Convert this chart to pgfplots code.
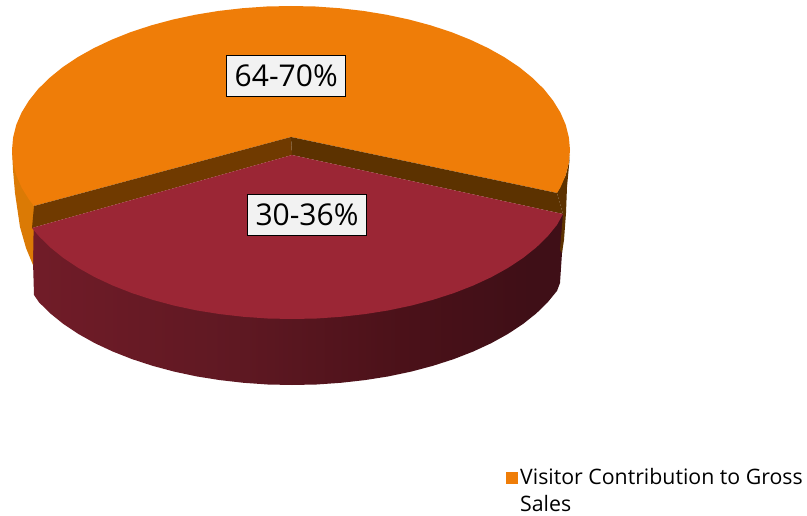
\documentclass[border=0pt]{standalone}
\usepackage{pgfplots}
\pgfplotsset{compat=1.18}
\usepackage{fontspec}
\setmainfont{Open Sans}
\definecolor{sliceorange}{HTML}{EF7D08}
\definecolor{orangeside}{HTML}{DB7A05}
\definecolor{slicemaroon}{HTML}{9B2635}
\definecolor{wallleft}{HTML}{703A00}
\definecolor{wallright}{HTML}{5C3200}
\definecolor{labelfill}{HTML}{F2F2F2}
\pgfdeclarehorizontalshading{rimfade}{100bp}{
  rgb(0bp)=(0.51,0.137,0.184);
  rgb(25bp)=(0.443,0.11,0.157);
  rgb(45bp)=(0.369,0.094,0.133);
  rgb(60bp)=(0.294,0.067,0.098);
  rgb(72bp)=(0.247,0.059,0.09);
  rgb(100bp)=(0.235,0.059,0.086)}
\begin{document}
\begin{tikzpicture}
\begin{axis}[
  width=807pt, height=516pt, scale only axis,
  xmin=0, xmax=807, ymin=0, ymax=516, y dir=reverse,
  axis lines=none, clip=false,
  legend style={at={(axis cs:505.5,468.5)}, anchor=north west, draw=none, fill=none,
    font=\fontsize{21.3}{26.5}\selectfont, inner xsep=0pt, inner ysep=0pt,
    nodes={inner sep=0pt}},
  legend cell align=left,
]
% page extent of the drawing
\path (axis cs:0,0) -- (axis cs:807,516);
% rim of the maroon slice
\addplot[draw=none, shading=rimfade, forget plot] coordinates {
  (32,228) (34,295) (39.1,302.4) (50.4,313.5) (63.4,324) (78.3,333.9) (94.7,343.1)
  (112.7,351.5) (132,359.1) (152.5,365.8) (174.1,371.6) (196.6,376.4) (219.8,380.1)
  (243.6,382.8) (267.7,384.5) (292,385) (316.6,384.5) (341,382.8) (365,380.1)
  (388.4,376.4) (411.2,371.6) (433,365.8) (453.8,359.1) (473.3,351.5) (491.4,343.1)
  (508,333.9) (523,324) (536.2,313.5) (547.6,302.4) (557,290.9) (560,283) (562,253) (563,214)
} --cycle;
% rim of the orange slice, left end
\addplot[draw=none, fill=orangeside, forget plot] coordinates {
  (12,150) (13,170) (15,193) (20,227) (26,248) (33,265) (34,206)
} --cycle;
% rim of the orange slice, right end
\addplot[draw=none, fill=wallright, forget plot] coordinates {
  (557,193) (565.8,175) (568.9,162.6) (570,155) (567,187) (566,213) (564,240) (562,253) (560,250) (563,214)
} --cycle;
% orange slice, top face
\addplot[draw=none, fill=sliceorange, forget plot] coordinates {
  (34,206) (28.8,199.2) (21.5,187.3) (16.2,175) (13.1,162.6) (12,150) (13.1,137.4)
  (16.2,125) (21.5,112.7) (28.8,100.8) (38.1,89.1) (49.4,78) (62.4,67.4) (77.3,57.4)
  (93.7,48.2) (111.7,39.7) (131,32) (151.5,25.3) (173.1,19.5) (195.6,14.7) (218.8,10.9)
  (242.6,8.2) (266.7,6.5) (291,6) (315.3,6.5) (339.4,8.2) (363.2,10.9) (386.4,14.7)
  (408.9,19.5) (430.5,25.3) (451,32) (470.3,39.7) (488.3,48.2) (504.7,57.4) (519.6,67.4)
  (532.6,78) (543.9,89.1) (553.2,100.8) (560.5,112.7) (565.8,125) (568.9,137.4) (570,150)
  (568.9,162.6) (565.8,175) (560.5,187.3) (557,193) (291,137)
} --cycle;
% cut faces of the orange slice
\addplot[draw=none, fill=wallleft, forget plot] coordinates {
  (34,206) (291,137) (292,155) (32,228)
} --cycle;
\addplot[draw=none, fill=wallright, forget plot] coordinates {
  (291,137) (557,193) (563,214) (292,155)
} --cycle;
% maroon slice, top face
\addplot[draw=none, fill=slicemaroon, forget plot] coordinates {
  (292,155) (32,228) (39.1,236.4) (50.4,247.5) (63.4,258) (78.3,267.9) (94.7,277.1)
  (112.7,285.5) (132,293.1) (152.5,299.8) (174.1,305.6) (196.6,310.4) (219.8,314.1)
  (243.6,316.8) (267.7,318.5) (292,319) (316.6,318.5) (341,316.8) (365,314.1)
  (388.4,310.4) (411.2,305.6) (433,299.8) (453.8,293.1) (473.3,285.5) (491.4,277.1)
  (508,267.9) (523,258) (536.2,247.5) (547.6,236.4) (557,224.9) (563,214)
} --cycle;
% legend key
\addlegendimage{only marks, mark=square*, mark size=5.5pt, mark options={draw=sliceorange, fill=sliceorange}}
\addlegendentry{\hspace*{3.5pt}\parbox[t]{284pt}{Visitor Contribution to Gross\\Sales}}
% slice labels
\node[draw=black, line width=1pt, fill=labelfill, minimum width=119pt, minimum height=41pt,
  inner sep=0pt, font=\fontsize{30}{32}\selectfont] at (axis cs:286.2,76.2) {64-70\%};
\node[draw=black, line width=1pt, fill=labelfill, minimum width=119pt, minimum height=41pt,
  inner sep=0pt, font=\fontsize{30}{32}\selectfont] at (axis cs:307,215) {30-36\%};
\end{axis}
\end{tikzpicture}
\end{document}
